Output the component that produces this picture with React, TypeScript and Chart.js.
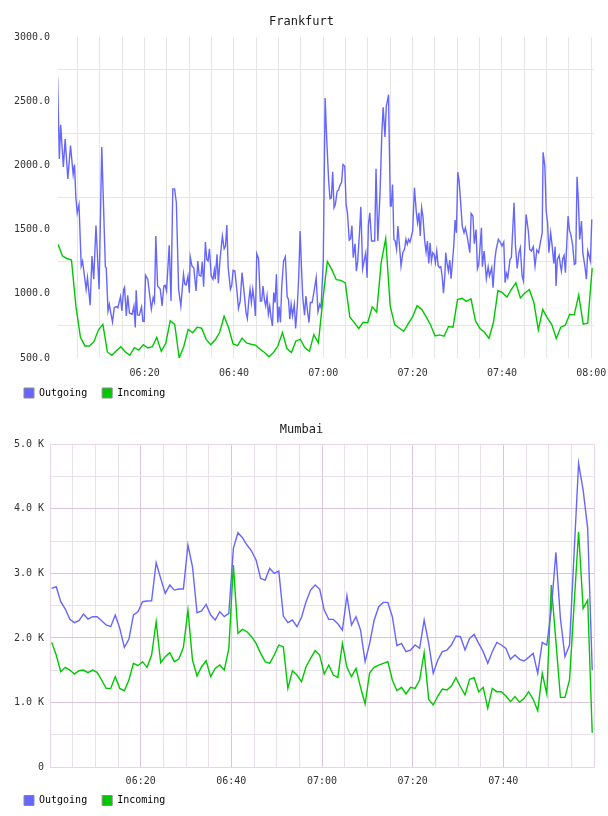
import { useEffect, useRef } from "react";
import { Chart, registerables } from "chart.js";

Chart.register(...registerables);

const MONO = "'DejaVu Sans Mono', monospace";
const OUT_COLOR = "#6666ff";
const IN_COLOR = "#00c800";
const SERIES_NAMES = ["Outgoing", "Incoming"];

// Grid every 5 minutes after 06:00
const X_TICK_MINUTES = [
  5, 10, 15, 20, 25, 30, 35, 40, 45, 50, 55, 60,
  65, 70, 75, 80, 85, 90, 95, 100, 105, 110, 115, 120,
];
const FRA_TIME_LABELS = ["06:20", "06:40", "07:00", "07:20", "07:40", "08:00"];
const MUM_TIME_LABELS = ["06:20", "06:40", "07:00", "07:20", "07:40"];
const LABEL_MINUTES = [20, 40, 60, 80, 100, 120];

// Frankfurt outgoing: sample time (minutes after 06:00) and value
const fraOutMinutes = [
  0.5, 0.9, 1.2, 1.8, 2.2, 2.8, 3.4, 4.0, 4.3, 4.6,
  4.9, 5.3, 5.8, 6.1, 6.9, 7.2, 7.8, 8.2, 8.6, 9.1,
  9.8, 10.4, 11.2, 11.4, 11.8, 12.1, 12.4, 12.8, 13.2, 13.7,
  14.0, 14.6, 14.9, 15.3, 15.5, 15.9, 16.2, 16.6, 17.2, 17.6,
  17.9, 18.1, 18.4, 18.8, 19.3, 19.6, 19.9, 20.2, 20.7, 21.5,
  21.9, 22.2, 22.5, 22.9, 23.5, 23.9, 24.3, 24.6, 24.9, 25.5,
  25.9, 26.3, 26.7, 27.1, 27.6, 28.1, 28.7, 29.0, 29.3, 29.7,
  30.0, 30.2, 30.6, 31.0, 31.5, 31.9, 32.2, 32.6, 32.9, 33.2,
  33.6, 33.9, 34.2, 34.5, 34.9, 35.3, 35.6, 35.8, 36.2, 36.5,
  36.9, 37.4, 37.8, 38.1, 38.4, 38.7, 39.2, 39.5, 39.8, 40.2,
  40.7, 41.0, 41.4, 41.8, 42.2, 42.7, 43.0, 43.3, 43.6, 43.9,
  44.2, 44.5, 44.8, 45.1, 45.5, 45.9, 46.2, 46.5, 46.8, 47.1,
  47.4, 47.7, 48.0, 48.3, 48.6, 48.9, 49.2, 49.5, 49.8, 50.1,
  50.4, 50.7, 51.1, 51.5, 51.9, 52.2, 52.5, 52.8, 53.1, 53.5,
  53.8, 54.2, 54.5, 54.8, 55.1, 55.4, 55.8, 56.1, 56.5, 56.8,
  57.1, 57.5, 58.0, 58.4, 58.8, 59.2, 59.5, 60.0, 60.4, 60.8,
  61.2, 61.5, 61.8, 62.1, 62.4, 62.7, 63.1, 63.4, 63.7, 64.1,
  64.4, 64.8, 65.1, 65.4, 65.8, 66.1, 66.4, 66.7, 67.1, 67.4,
  67.7, 68.1, 68.4, 68.8, 69.2, 69.5, 69.8, 70.1, 70.4, 70.8,
  71.2, 71.5, 71.8, 72.2, 72.7, 73.1, 73.4, 73.8, 74.1, 74.4,
  74.6, 75.0, 75.2, 75.5, 75.8, 76.1, 76.4, 76.7, 77.0, 77.4,
  77.8, 78.2, 78.5, 78.8, 79.1, 79.4, 79.7, 80.0, 80.4, 80.8,
  81.1, 81.4, 81.7, 82.0, 82.3, 82.7, 83.0, 83.3, 83.6, 83.9,
  84.2, 84.5, 84.8, 85.1, 85.4, 85.7, 86.0, 86.3, 86.6, 86.9,
  87.2, 87.4, 87.7, 88.0, 88.3, 88.6, 88.9, 89.2, 89.5, 89.8,
  90.1, 90.4, 90.7, 91.1, 91.5, 91.8, 92.2, 92.8, 93.1, 93.5,
  93.8, 94.2, 94.5, 94.8, 95.4, 95.6, 96.0, 96.5, 96.9, 97.2,
  97.7, 98.0, 98.4, 98.7, 99.2, 99.6, 100.0, 100.4, 100.7, 101.0,
  101.3, 101.8, 102.1, 102.7, 103.0, 103.4, 103.8, 104.1, 104.5, 104.8,
  105.4, 105.9, 106.2, 106.6, 107.0, 107.4, 107.8, 108.2, 108.6, 109.0,
  109.2, 109.6, 109.9, 110.2, 110.5, 110.9, 111.2, 111.6, 111.9, 112.1,
  112.4, 112.8, 113.1, 113.3, 113.6, 113.9, 114.2, 114.5, 114.8, 115.1,
  115.4, 115.8, 116.2, 116.5, 116.8, 117.1, 117.4, 117.8, 118.1, 118.6,
  118.9, 119.2, 119.5, 119.8, 120.1,
];
const fraOutValues = [
  2693, 2050, 2317, 1988, 2206, 1895, 2154, 1929, 2006, 1747,
  1631, 1695, 1216, 1255, 1035, 1126, 911, 1294, 1113, 1532,
  1035, 2144, 1211, 1203, 867, 918, 854, 781, 893, 900,
  890, 978, 867, 1035, 1051, 828, 989, 849, 841, 905,
  737, 1027, 836, 833, 897, 786, 786, 1144, 1113, 880,
  970, 937, 1450, 1061, 1035, 905, 1061, 1066, 1022, 1377,
  944, 1817, 1817, 1709, 1035, 905, 1152, 1074, 1069, 1139,
  1009, 1289, 1216, 1203, 1022, 1255, 1144, 1139, 1250, 1056,
  1403, 1268, 1255, 1351, 1139, 1113, 1185, 1113, 1307, 1082,
  1276, 1450, 1351, 1372, 1535, 1203, 1035, 1066, 1183, 1177,
  1009, 885, 944, 1165, 1035, 854, 807, 944, 1035, 932,
  1035, 957, 828, 1312, 1273, 944, 944, 1061, 957, 905,
  983, 841, 905, 815, 750, 1009, 932, 1152, 776, 900,
  776, 1061, 1255, 1289, 978, 957, 802, 918, 828, 918,
  730, 918, 1139, 1489, 1216, 970, 833, 983, 854, 776,
  932, 932, 1035, 1126, 861, 918, 892, 1268, 2525, 2175,
  1877, 1740, 1747, 1950, 1670, 1696, 1799, 1807, 1843, 1869,
  2006, 1993, 1696, 1631, 1418, 1429, 1532, 1281, 1390, 1177,
  1255, 1475, 1677, 1195, 1268, 1320, 1126, 1540, 1631, 1411,
  1411, 1411, 1973, 1411, 1786, 2253, 2452, 2222, 2460, 2512,
  2551, 1683, 1683, 1851, 1424, 1411, 1346, 1527, 1398, 1216,
  1320, 1351, 1424, 1385, 1424, 1403, 1444, 1489, 1825, 1644,
  1553, 1631, 1450, 1670, 1605, 1411, 1325, 1411, 1237, 1398,
  1255, 1320, 1307, 1242, 1333, 1221, 1203, 1211, 1139, 1004,
  1139, 1320, 1237, 1177, 1263, 1118, 1242, 1372, 1574, 1475,
  1947, 1877, 1735, 1527, 1475, 1514, 1450, 1320, 1626, 1605,
  1390, 1501, 1195, 1229, 1514, 1211, 1333, 1118, 1211, 1139,
  1203, 1048, 1268, 1346, 1424, 1403, 1372, 1403, 1087, 1159,
  1126, 1268, 1281, 1709, 1385, 1198, 1320, 1359, 1139, 1100,
  1618, 1489, 1346, 1333, 1367, 1216, 1341, 1320, 1403, 1475,
  2102, 1993, 1644, 1553, 1320, 1475, 1385, 1237, 1367, 1061,
  1268, 1299, 1216, 1177, 1273, 1299, 1165, 1385, 1605, 1496,
  1463, 1385, 1229, 1237, 1911, 1735, 1424, 1566, 1320, 1203,
  1113, 1333, 1294, 1255, 1579,
];

// Frankfurt incoming: one sample per minute
const FRA_IN_START = 0.6;
const FRA_IN_STEP = 1.005;
const fraInValues = [
  1386, 1294, 1275, 1263, 900, 661, 594, 594, 627, 718,
  762, 547, 521, 557, 588, 547, 521, 581, 562, 604,
  578, 588, 661, 552, 614, 790, 762, 500, 588, 723,
  697, 740, 732, 645, 604, 640, 698, 825, 735, 610,
  597, 655, 617, 607, 600, 570, 543, 509, 543, 595,
  698, 574, 543, 633, 646, 580, 552, 682, 617, 955,
  1252, 1188, 1110, 1105, 1085, 820, 776, 730, 778, 775,
  898, 858, 1245, 1430, 905, 760, 734, 708, 765, 822,
  908, 879, 822, 757, 672, 680, 670, 745, 740, 955,
  965, 941, 960, 790, 730, 700, 652, 776, 1025, 1009,
  975, 1035, 1085, 968, 1006, 1032, 935, 719, 877, 812,
  760, 652, 740, 755, 840, 836, 991, 763, 771, 1200,
];

// Mumbai: both series sampled once per minute
const MUM_START = 0.37;
const MUM_STEP = 1.002;
const mumOutValues = [
  2767, 2793, 2561, 2447, 2287, 2236, 2267, 2370, 2293, 2329,
  2329, 2267, 2200, 2174, 2355, 2148, 1854, 1978, 2355, 2406,
  2561, 2571, 2576, 3165, 2922, 2690, 2819, 2741, 2757, 2757,
  3439, 3103, 2390, 2420, 2520, 2355, 2277, 2406, 2329, 2380,
  3387, 3630, 3552, 3439, 3346, 3206, 2922, 2896, 3077, 3000,
  3036, 2339, 2236, 2277, 2174, 2320, 2561, 2741, 2819, 2757,
  2432, 2287, 2287, 2220, 2122, 2654, 2200, 2329, 2122, 1632,
  1916, 2277, 2483, 2550, 2550, 2329, 1879, 1916, 1787, 1812,
  1890, 1838, 2277, 1916, 1451, 1657, 1787, 1812, 1890, 2029,
  2019, 1812, 1993, 2055, 1916, 1787, 1606, 1787, 1931, 1890,
  1838, 1668, 1735, 1668, 1642, 1699, 1761, 1451, 1931, 1890,
  2450, 3325, 2300, 1709, 1890, 3300, 4704, 4291, 3697, 1503,
];
const mumInValues = [
  1931, 1735, 1477, 1544, 1502, 1441, 1492, 1502, 1461, 1502,
  1466, 1348, 1218, 1218, 1399, 1218, 1182, 1348, 1606, 1570,
  1632, 1544, 1735, 2251, 1616, 1709, 1771, 1632, 1673, 1854,
  2430, 1657, 1410, 1554, 1647, 1399, 1528, 1580, 1502, 1838,
  3129, 2071, 2132, 2096, 2019, 1916, 1761, 1632, 1606, 1735,
  1890, 1864, 1218, 1492, 1425, 1322, 1554, 1683, 1802, 1735,
  1441, 1580, 1425, 1389, 1916, 1544, 1399, 1528, 1234, 976,
  1461, 1544, 1580, 1606, 1632, 1348, 1182, 1234, 1131, 1234,
  1218, 1348, 1771, 1048, 960, 1100, 1208, 1193, 1255, 1384,
  1244, 1115, 1358, 1384, 1167, 1234, 909, 1218, 1167, 1167,
  1100, 1012, 1090, 1002, 1064, 1167, 1048, 873, 1451, 1131,
  2819, 1950, 1079, 1079, 1348, 2500, 3645, 2457, 2586, 532,
];

type Pt = { x: number; y: number };

const pairs = (xs: number[], ys: number[]): Pt[] =>
  ys.slice(0, xs.length).map((y, i) => ({ x: xs[i], y }));
const regular = (start: number, step: number, ys: number[]): Pt[] =>
  ys.map((y, i) => ({ x: start + i * step, y }));

const timeLabel = (labels: string[]) => (v: number) => {
  const k = LABEL_MINUTES.indexOf(v);
  return k >= 0 && k < labels.length ? labels[k] : "";
};

// Pulls the legend row up closer to the time axis labels
const legendNudge = {
  id: "legendNudge",
  afterLayout(chart: any, _args: any, opts: any) {
    const lg = chart.legend;
    if (lg && opts && opts.dy) {
      lg.top += opts.dy;
      lg.bottom += opts.dy;
    }
  },
};

type Spec = {
  title: string;
  titlePad: { top: number; bottom: number };
  height: number;
  top: number;
  legendDy: number;
  yMin: number;
  yMax: number;
  yStep: number;
  yWidth: number;
  yPad: number;
  yLabel: (v: number) => string;
  yGrid: (v: number) => string;
  xMin: number;
  xMax: number;
  xLabel: (v: number) => string;
  xGrid: (v: number) => string;
  xPad: number;
  xHeight: number;
  border: string | null;
  out: Pt[];
  inc: Pt[];
};

const FRA_GRID = "#e6e6e6";
const MUM_MAJOR = "#dcc4dc";
const MUM_MINOR = "#e9e1e9";
const MUM_EDGE = "#e8d6e8";

const frankfurt: Spec = {
  title: "Frankfurt",
  titlePad: { top: 14.8, bottom: 7.8 },
  height: 414,
  top: 0,
  legendDy: -6,
  yMin: 500,
  yMax: 3000,
  yStep: 250,
  yWidth: 49,
  yPad: 8,
  yLabel: (v) => (v % 500 === 0 ? v.toFixed(1) : ""),
  yGrid: (v) => (v % 500 === 0 ? "rgba(0,0,0,0)" : FRA_GRID),
  xMin: 0.6,
  xMax: 120.6,
  xLabel: timeLabel(FRA_TIME_LABELS),
  xGrid: () => FRA_GRID,
  xPad: 9,
  xHeight: 21,
  border: null,
  out: pairs(fraOutMinutes, fraOutValues),
  inc: regular(FRA_IN_START, FRA_IN_STEP, fraInValues),
};

const mumbai: Spec = {
  title: "Mumbai",
  titlePad: { top: 17.8, bottom: 7.1 },
  height: 417,
  top: 405,
  legendDy: -6.5,
  yMin: 0,
  yMax: 5000,
  yStep: 500,
  yWidth: 41,
  yPad: 6,
  yLabel: (v) =>
    v % 1000 !== 0 ? "" : v === 0 ? "0" : (v / 1000).toFixed(1) + " K",
  yGrid: (v) => (v === 5000 ? MUM_EDGE : v % 1000 === 0 ? MUM_MAJOR : MUM_MINOR),
  xMin: 0,
  xMax: 120,
  xLabel: timeLabel(MUM_TIME_LABELS),
  xGrid: (v) => (v === 120 ? MUM_EDGE : v % 20 === 0 ? MUM_MAJOR : MUM_MINOR),
  xPad: 8,
  xHeight: 20,
  border: MUM_EDGE,
  out: regular(MUM_START, MUM_STEP, mumOutValues),
  inc: regular(MUM_START, MUM_STEP, mumInValues),
};

function TrafficChart({ spec }: { spec: Spec }) {
  const ref = useRef<HTMLCanvasElement | null>(null);

  useEffect(() => {
    const canvas = ref.current;
    if (!canvas) return;
    const tickFont = { family: MONO, size: 10 };
    const chart = new Chart(canvas, {
      type: "line",
      plugins: [legendNudge],
      data: {
        datasets: [
          {
            label: SERIES_NAMES[0],
            data: spec.out,
            borderColor: OUT_COLOR,
            backgroundColor: OUT_COLOR,
            borderWidth: 1.4,
            pointRadius: 0,
            fill: false,
            tension: 0,
          },
          {
            label: SERIES_NAMES[1],
            data: spec.inc,
            borderColor: IN_COLOR,
            backgroundColor: IN_COLOR,
            borderWidth: 1.4,
            pointRadius: 0,
            fill: false,
            tension: 0,
          },
        ],
      },
      options: {
        responsive: false,
        animation: false,
        devicePixelRatio: 1,
        events: [],
        layout: { padding: { left: 9, right: 14, top: 0, bottom: 0 } },
        plugins: {
          legendNudge: { dy: spec.legendDy },
          title: {
            display: true,
            text: spec.title,
            color: "#1a1a1a",
            font: { family: MONO, size: 12, weight: "normal" },
            padding: spec.titlePad,
          },
          legend: {
            position: "bottom",
            align: "start",
            labels: {
              boxWidth: 10,
              boxHeight: 10,
              padding: 15,
              color: "#1a1a1a",
              font: tickFont,
              generateLabels: (c: any) =>
                c.data.datasets.map((d: any, i: number) => ({
                  text: d.label,
                  fillStyle: d.borderColor,
                  strokeStyle: "#8a8a8a",
                  lineWidth: 1,
                  hidden: false,
                  datasetIndex: i,
                })),
            },
          },
          tooltip: { enabled: false },
        },
        scales: {
          x: {
            type: "linear",
            min: spec.xMin,
            max: spec.xMax,
            afterBuildTicks: (s: any) => {
              s.ticks = X_TICK_MINUTES.map((v) => ({ value: v }));
            },
            afterFit: (s: any) => {
              s.height = spec.xHeight;
              s.paddingLeft = 0;
              s.paddingRight = 0;
            },
            ticks: {
              autoSkip: false,
              maxRotation: 0,
              minRotation: 0,
              padding: spec.xPad,
              color: "#333",
              font: tickFont,
              callback: (v: any) => spec.xLabel(Number(v)),
            },
            grid: {
              drawTicks: false,
              lineWidth: 1,
              color: (ctx: any) => spec.xGrid(ctx.tick ? ctx.tick.value : -1),
            },
            border: spec.border
              ? { display: true, color: spec.border, width: 1 }
              : { display: false },
          },
          y: {
            type: "linear",
            min: spec.yMin,
            max: spec.yMax,
            ticks: {
              stepSize: spec.yStep,
              autoSkip: false,
              padding: spec.yPad,
              color: "#333",
              font: tickFont,
              callback: (v: any) => spec.yLabel(Number(v)),
            },
            afterFit: (s: any) => {
              s.width = spec.yWidth;
            },
            grid: {
              drawTicks: false,
              lineWidth: 1,
              color: (ctx: any) => spec.yGrid(ctx.tick ? ctx.tick.value : -1),
            },
            border: spec.border
              ? { display: true, color: spec.border, width: 1 }
              : { display: false },
          },
        },
      },
    } as any);
    return () => chart.destroy();
  }, [spec]);

  return (
    <canvas
      ref={ref}
      width={608}
      height={spec.height}
      style={{ position: "absolute", left: 0, top: spec.top, display: "block" }}
    />
  );
}

export default function App() {
  return (
    <div
      style={{
        position: "absolute",
        left: 0,
        top: 0,
        width: 608,
        height: 816,
        overflow: "hidden",
        background: "#ffffff",
      }}
    >
      <TrafficChart spec={frankfurt} />
      <TrafficChart spec={mumbai} />
    </div>
  );
}
